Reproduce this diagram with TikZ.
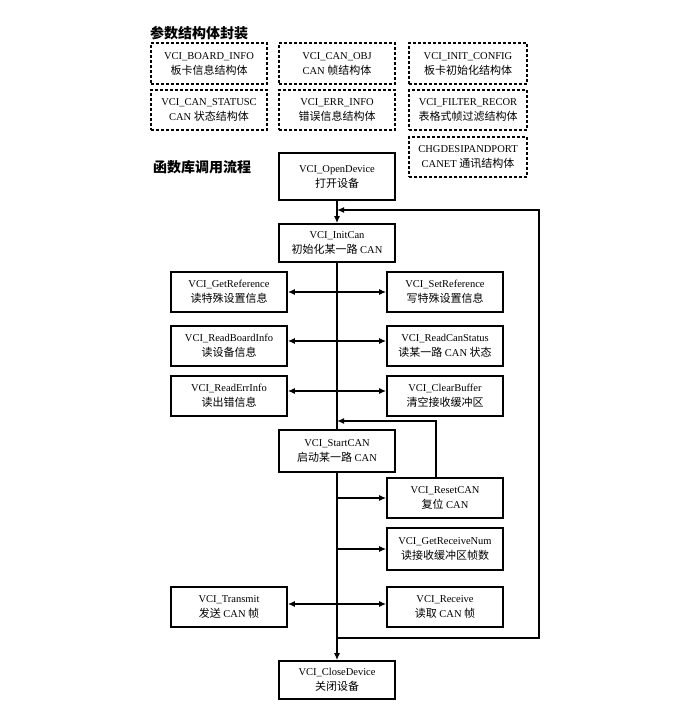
\documentclass[tikz,border=0pt]{standalone}
\usepackage{fontspec}
\setmainfont{Liberation Serif}
\newfontfamily\cjk{Noto Sans CJK SC}
\usetikzlibrary{arrows.meta}
\newcommand\zh[1]{{\cjk\fontsize{11}{15}\selectfont #1}}
\begin{document}
\begin{tikzpicture}[x=1pt,y=-1pt,
  box/.style={draw,line width=1.6pt,minimum width=116pt,inner sep=0pt,align=center,font=\fontsize{10.5}{15}\selectfont},
  dbox/.style={box,line width=1.4pt,dash pattern=on 3pt off 2pt},
  conn/.style={line width=1.8pt},
  arr/.style={conn,-{Latex[length=7pt,width=6pt]}},
  barr/.style={conn,{Latex[length=7pt,width=6pt]}-{Latex[length=7pt,width=6pt]}},
  ttl/.style={font=\cjk\bfseries\fontsize{14}{16}\selectfont,anchor=west,inner sep=0pt}
]
\useasboundingbox (0,0) rectangle (690,726);

\node[ttl] (t1) at (150,33) {参数结构体封装};
\node[dbox,minimum height=41pt] (d1) at (209,63.5) {VCI\_BOARD\_INFO\\\zh{板卡信息结构体}};
\node[dbox,minimum height=41pt] (d2) at (337,63.5) {VCI\_CAN\_OBJ\\CAN \zh{帧结构体}};
\node[dbox,minimum height=41pt,minimum width=118pt] (d3) at (468,63.5) {VCI\_INIT\_CONFIG\\\zh{板卡初始化结构体}};
\node[dbox,minimum height=40pt] (d4) at (209,110) {VCI\_CAN\_STATUSC\\CAN \zh{状态结构体}};
\node[dbox,minimum height=40pt] (d5) at (337,110) {VCI\_ERR\_INFO\\\zh{错误信息结构体}};
\node[dbox,minimum height=40pt,minimum width=118pt] (d6) at (468,110) {VCI\_FILTER\_RECOR\\\zh{表格式帧过滤结构体}};
\node[dbox,minimum height=40pt,minimum width=118pt] (d7) at (468,157) {CHGDESIPANDPORT\\CANET \zh{通讯结构体}};

\node[ttl] (t2) at (153,167) {函数库调用流程};
\node[box,minimum height=47pt] (open) at (337,176.5) {VCI\_OpenDevice\\\zh{打开设备}};
\node[box,minimum height=38pt] (init) at (337,243) {VCI\_InitCan\\\zh{初始化某一路} CAN};
\node[box,minimum height=40pt] (getref) at (229,292) {VCI\_GetReference\\\zh{读特殊设置信息}};
\node[box,minimum height=40pt] (setref) at (445,292) {VCI\_SetReference\\\zh{写特殊设置信息}};
\node[box,minimum height=40pt] (rbi) at (229,346) {VCI\_ReadBoardInfo\\\zh{读设备信息}};
\node[box,minimum height=40pt] (rcs) at (445,346) {VCI\_ReadCanStatus\\\zh{读某一路} CAN \zh{状态}};
\node[box,minimum height=40pt] (rei) at (229,396) {VCI\_ReadErrInfo\\\zh{读出错信息}};
\node[box,minimum height=40pt] (cb) at (445,396) {VCI\_ClearBuffer\\\zh{清空接收缓冲区}};
\node[box,minimum height=42pt] (start) at (337,451) {VCI\_StartCAN\\\zh{启动某一路} CAN};
\node[box,minimum height=40pt] (reset) at (445,498) {VCI\_ResetCAN\\\zh{复位} CAN};
\node[box,minimum height=42pt] (grn) at (445,549) {VCI\_GetReceiveNum\\\zh{读接收缓冲区帧数}};
\node[box,minimum height=40pt] (tx) at (229,607) {VCI\_Transmit\\\zh{发送} CAN \zh{帧}};
\node[box,minimum height=40pt] (rx) at (445,607) {VCI\_Receive\\\zh{读取} CAN \zh{帧}};
\node[box,minimum height=38pt] (close) at (337,680) {VCI\_CloseDevice\\\zh{关闭设备}};

\coordinate (lb) at (539,638);
\coordinate (lt) at (539,210);
\coordinate (rt) at (436,421);

\draw[arr] (open.south) -- (init.north);
\draw[conn] (init.south) -- (start.north);
\draw[arr] (start.south) -- (close.north);
\draw[arr] (start.south |- lb) -- (lb) -- (lt) -- (open.south |- lt);
\draw[arr] (reset.north -| rt) -- (rt) -- (start.north |- rt);

\draw[barr] (getref.east) -- (setref.west);
\draw[barr] ([yshift=5pt]rbi.east) -- ([yshift=5pt]rcs.west);
\draw[barr] ([yshift=5pt]rei.east) -- ([yshift=5pt]cb.west);
\draw[arr] (start.south |- reset.west) -- (reset.west);
\draw[arr] (start.south |- grn.west) -- (grn.west);
\draw[barr] ([yshift=3pt]tx.east) -- ([yshift=3pt]rx.west);
\end{tikzpicture}
\end{document}
